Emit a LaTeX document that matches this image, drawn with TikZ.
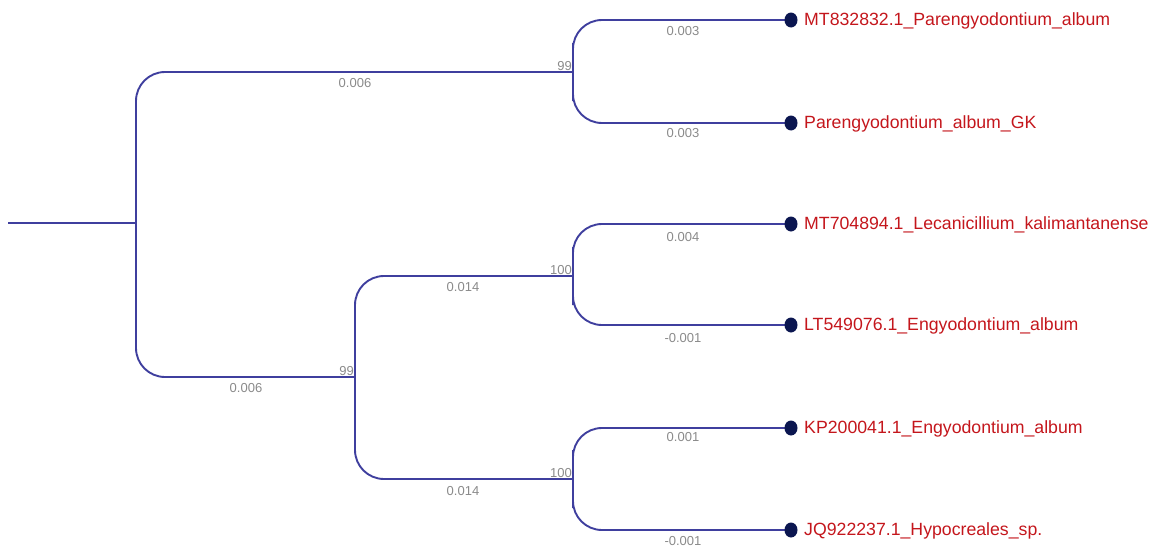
\documentclass[tikz,border=0pt]{standalone}
\usepackage{fontspec}
\setmainfont{Liberation Sans}
\definecolor{branch}{HTML}{3F3F9E}
\definecolor{dotc}{HTML}{0B1650}
\definecolor{leafred}{HTML}{C4161C}
\definecolor{lblgray}{HTML}{8A8A8A}
\begin{document}
\begin{tikzpicture}[x=1pt,y=-1pt,
  br/.style={draw=branch,line width=1.9pt,rounded corners=29pt},
  tip/.style={ellipse,fill=dotc,minimum width=12pt,minimum height=14pt,inner sep=0pt},
  leaf/.style={anchor=west,text=leafred,font=\fontsize{17.7}{21}\selectfont,inner sep=0pt},
  blen/.style={text=lblgray,font=\fontsize{13}{15}\selectfont,inner sep=0pt},
  sup/.style={text=lblgray,font=\fontsize{13}{15}\selectfont,inner sep=1pt,anchor=south east}]
\useasboundingbox (0,0) rectangle (1157,546);
% internal nodes
\coordinate (root) at (8,223);
\coordinate (n0) at (136,223);
\coordinate (nA) at (573,72);
\coordinate (nB) at (355,377);
\coordinate (nC) at (573,276);
\coordinate (nD) at (573,479);
% tips
\coordinate (t1) at (791,20);
\coordinate (t2) at (791,123);
\coordinate (t3) at (791,224);
\coordinate (t4) at (791,325);
\coordinate (t5) at (791,428);
\coordinate (t6) at (791,530);
% branches
\draw[br] (root) -- (n0);
\draw[br] (nA) -| (n0) |- (nB);
\draw[br] (nC) -| (nB) |- (nD);
\draw[br] (t1) -| (nA) |- (t2);
\draw[br] (t3) -| (nC) |- (t4);
\draw[br] (t5) -| (nD) |- (t6);
% tip dots
\foreach \t in {t1,t2,t3,t4,t5,t6} \fill[dotc] (\t) ellipse (6.5pt and 7.5pt);
% leaf labels
\node[leaf] (L1) at (804,21) {MT832832.1\_Parengyodontium\_album};
\node[leaf] (L2) at (804,124) {Parengyodontium\_album\_GK};
\node[leaf] (L3) at (804,225) {MT704894.1\_Lecanicillium\_kalimantanense};
\node[leaf] (L4) at (804,326) {LT549076.1\_Engyodontium\_album};
\node[leaf] (L5) at (804,429) {KP200041.1\_Engyodontium\_album};
\node[leaf] (L6) at (804,531) {JQ922237.1\_Hypocreales\_sp.};
% branch lengths
\node[blen] (b1) at (355,83) {0.006};
\node[blen] (b2) at (246,388) {0.006};
\node[blen] (b3) at (683,31) {0.003};
\node[blen] (b4) at (683,133) {0.003};
\node[blen] (b5) at (463,287) {0.014};
\node[blen] (b6) at (463,491) {0.014};
\node[blen] (b7) at (683,237) {0.004};
\node[blen] (b8) at (683,338) {-0.001};
\node[blen] (b9) at (683,437) {0.001};
\node[blen] (b10) at (683,541) {-0.001};
% support values
\node[sup] (s1) at (nA) {99};
\node[sup] (s2) at (nB) {99};
\node[sup] (s3) at (nC) {100};
\node[sup] (s4) at (nD) {100};
\end{tikzpicture}
\end{document}
